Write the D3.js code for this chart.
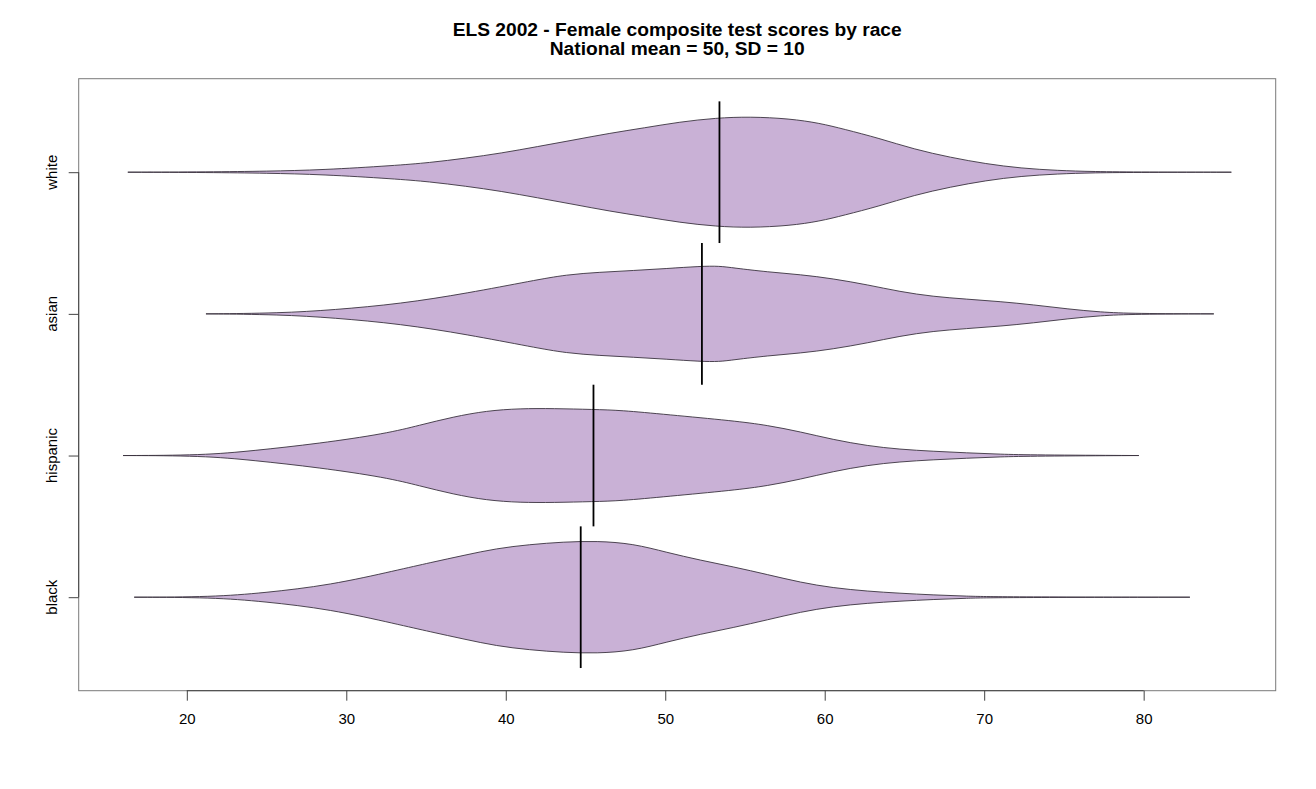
<!DOCTYPE html>
<html>
<head>
<meta charset="utf-8">
<script src="https://cdn.jsdelivr.net/npm/d3@7"></script>
<style>
  body { margin: 0; background: #fff; }
  text { font-family: "Liberation Sans", Arial, Helvetica, sans-serif; }
</style>
</head>
<body>
<script>
// groups, bottom to top as R draws them
const races = ["black", "hispanic", "asian", "white"];
const meanScore = [44.7, 45.5, 52.3, 53.4];
const minScore = [16.7, 16.0, 21.2, 16.3];
const maxScore = [82.9, 79.7, 84.4, 85.5];
const xTicks = [20, 30, 40, 50, 60, 70, 80];

const blackDensity = [
  [21.6, 0.002], [24.8, 0.030], [29.0, 0.085], [33.2, 0.191], [35.3, 0.245],
  [37.4, 0.296], [39.4, 0.344], [41.5, 0.372], [43.6, 0.390], [45.7, 0.397],
  [48.0, 0.378], [50.1, 0.316], [52.2, 0.261], [54.3, 0.214], [56.4, 0.160],
  [58.5, 0.104], [60.5, 0.066], [62.7, 0.042], [64.7, 0.028], [66.8, 0.016],
  [68.9, 0.007], [71.0, 0.002]
];
const hispanicDensity = [
  [21.0, 0.002], [24.1, 0.033], [28.3, 0.085], [32.5, 0.155], [34.6, 0.214],
  [36.7, 0.273], [38.8, 0.316], [40.9, 0.332], [43.0, 0.332], [45.5, 0.325],
  [47.2, 0.320], [50.1, 0.289], [54.3, 0.245], [56.4, 0.214], [58.5, 0.167],
  [60.5, 0.113], [62.7, 0.068], [64.7, 0.044], [66.8, 0.030], [68.9, 0.019],
  [71.0, 0.009], [73.1, 0.004]
];
const asianDensity = [
  [25.8, 0.005], [29.2, 0.028], [33.4, 0.071], [37.6, 0.146], [41.7, 0.235],
  [43.8, 0.277], [45.9, 0.294], [48.0, 0.306], [50.1, 0.320], [52.2, 0.336],
  [53.4, 0.338], [54.3, 0.324], [56.4, 0.296], [58.5, 0.277], [60.5, 0.249],
  [62.7, 0.205], [64.7, 0.157], [66.8, 0.122], [68.9, 0.104], [71.0, 0.087],
  [73.1, 0.064], [75.2, 0.035], [77.3, 0.012], [79.4, 0.002]
];
const whiteDensity = [
  [21.4, 0.002], [25.0, 0.007], [28.5, 0.016], [33.0, 0.047], [35.2, 0.067],
  [37.5, 0.099], [39.7, 0.134], [42.0, 0.181], [44.2, 0.226], [46.5, 0.275],
  [48.7, 0.313], [50.9, 0.355], [53.2, 0.383], [55.3, 0.392], [57.8, 0.378],
  [59.7, 0.346], [61.2, 0.304], [63.4, 0.240], [65.6, 0.162], [67.9, 0.104],
  [70.1, 0.059], [72.3, 0.028], [74.6, 0.012], [76.8, 0.004], [80.0, 0.001]
];
const densities = [blackDensity, hispanicDensity, asianDensity, whiteDensity];

const W = 1316, H = 789;
const plot = { left: 78.7, right: 1275.7, top: 78.7, bottom: 690.7 };

const svg = d3.select("body").append("svg")
  .attr("width", W)
  .attr("height", H);

// R style 4% padding on both axes
const lo = d3.min(minScore), hi = d3.max(maxScore);
const pad = (hi - lo) * 0.04;
const x = d3.scaleLinear()
  .domain([lo - pad, hi + pad])
  .range([plot.left, plot.right]);

const y = d3.scaleLinear()
  .domain([0.5 - 0.16, races.length + 0.5 + 0.16])
  .range([plot.bottom, plot.top]);

const unit = y(1) - y(2); // px per group unit

const beans = races.map((r, i) => {
  const pts = [[minScore[i], 0]].concat(densities[i], [[maxScore[i], 0]]);
  return { race: r, pos: i + 1, mean: meanScore[i], pts: pts };
});

const area = d3.area()
  .curve(d3.curveBasis);

svg.selectAll("path.bean")
  .data(beans)
  .enter()
  .append("path")
  .attr("class", "bean")
  .attr("d", (d) => area
    .x((p) => x(p[0]))
    .y0((p) => y(d.pos) - p[1] * unit)
    .y1((p) => y(d.pos) + p[1] * unit)(d.pts))
  .attr("fill", "#c9b1d6")
  .attr("stroke", "#3b3340")
  .attr("stroke-width", 0.9);

// mean lines
svg.selectAll("line.mean")
  .data(beans)
  .enter()
  .append("line")
  .attr("class", "mean")
  .attr("x1", (d) => x(d.mean))
  .attr("x2", (d) => x(d.mean))
  .attr("y1", (d) => y(d.pos + 0.5))
  .attr("y2", (d) => y(d.pos - 0.5))
  .attr("stroke", "#000")
  .attr("stroke-width", 1.8);

// box
svg.append("rect")
  .attr("x", plot.left)
  .attr("y", plot.top)
  .attr("width", plot.right - plot.left)
  .attr("height", plot.bottom - plot.top)
  .attr("fill", "none")
  .attr("stroke", "#7a7a7a")
  .attr("stroke-width", 1);

// x axis
const xAxis = svg.append("g")
  .attr("transform", `translate(0,${plot.bottom})`)
  .call(d3.axisBottom(x).tickValues(xTicks).tickSize(10).tickPadding(13));
xAxis.select(".domain").remove();
xAxis.append("line")
  .attr("x1", x(xTicks[0]))
  .attr("x2", x(xTicks[xTicks.length - 1]))
  .attr("stroke", "#444");
xAxis.selectAll(".tick line").attr("stroke", "#444");
xAxis.selectAll("text")
  .attr("font-size", 15)
  .attr("fill", "#000")
  .style("font-family", "'Liberation Sans', Arial, sans-serif");

// y axis
const yAxis = svg.append("g")
  .attr("transform", `translate(${plot.left},0)`)
  .call(d3.axisLeft(y).tickValues(races.map((r, i) => i + 1)).tickSize(10).tickFormat(""));
yAxis.select(".domain").remove();
yAxis.append("line")
  .attr("y1", y(1))
  .attr("y2", y(races.length))
  .attr("stroke", "#444");
yAxis.selectAll(".tick line").attr("stroke", "#444");

svg.selectAll("text.ylab")
  .data(beans)
  .enter()
  .append("text")
  .attr("class", "ylab")
  .attr("transform", (d) => `translate(57,${y(d.pos)}) rotate(-90)`)
  .attr("text-anchor", "middle")
  .attr("font-size", 15)
  .text((d) => d.race);

// title
const cx = (plot.left + plot.right) / 2;
svg.append("text")
  .attr("x", cx)
  .attr("y", 35.5)
  .attr("text-anchor", "middle")
  .attr("font-size", 19.2)
  .attr("font-weight", "bold")
  .text("ELS 2002 - Female composite test scores by race");
svg.append("text")
  .attr("x", cx)
  .attr("y", 55)
  .attr("text-anchor", "middle")
  .attr("font-size", 19.2)
  .attr("font-weight", "bold")
  .text("National mean = 50, SD = 10");
</script>
</body>
</html>
